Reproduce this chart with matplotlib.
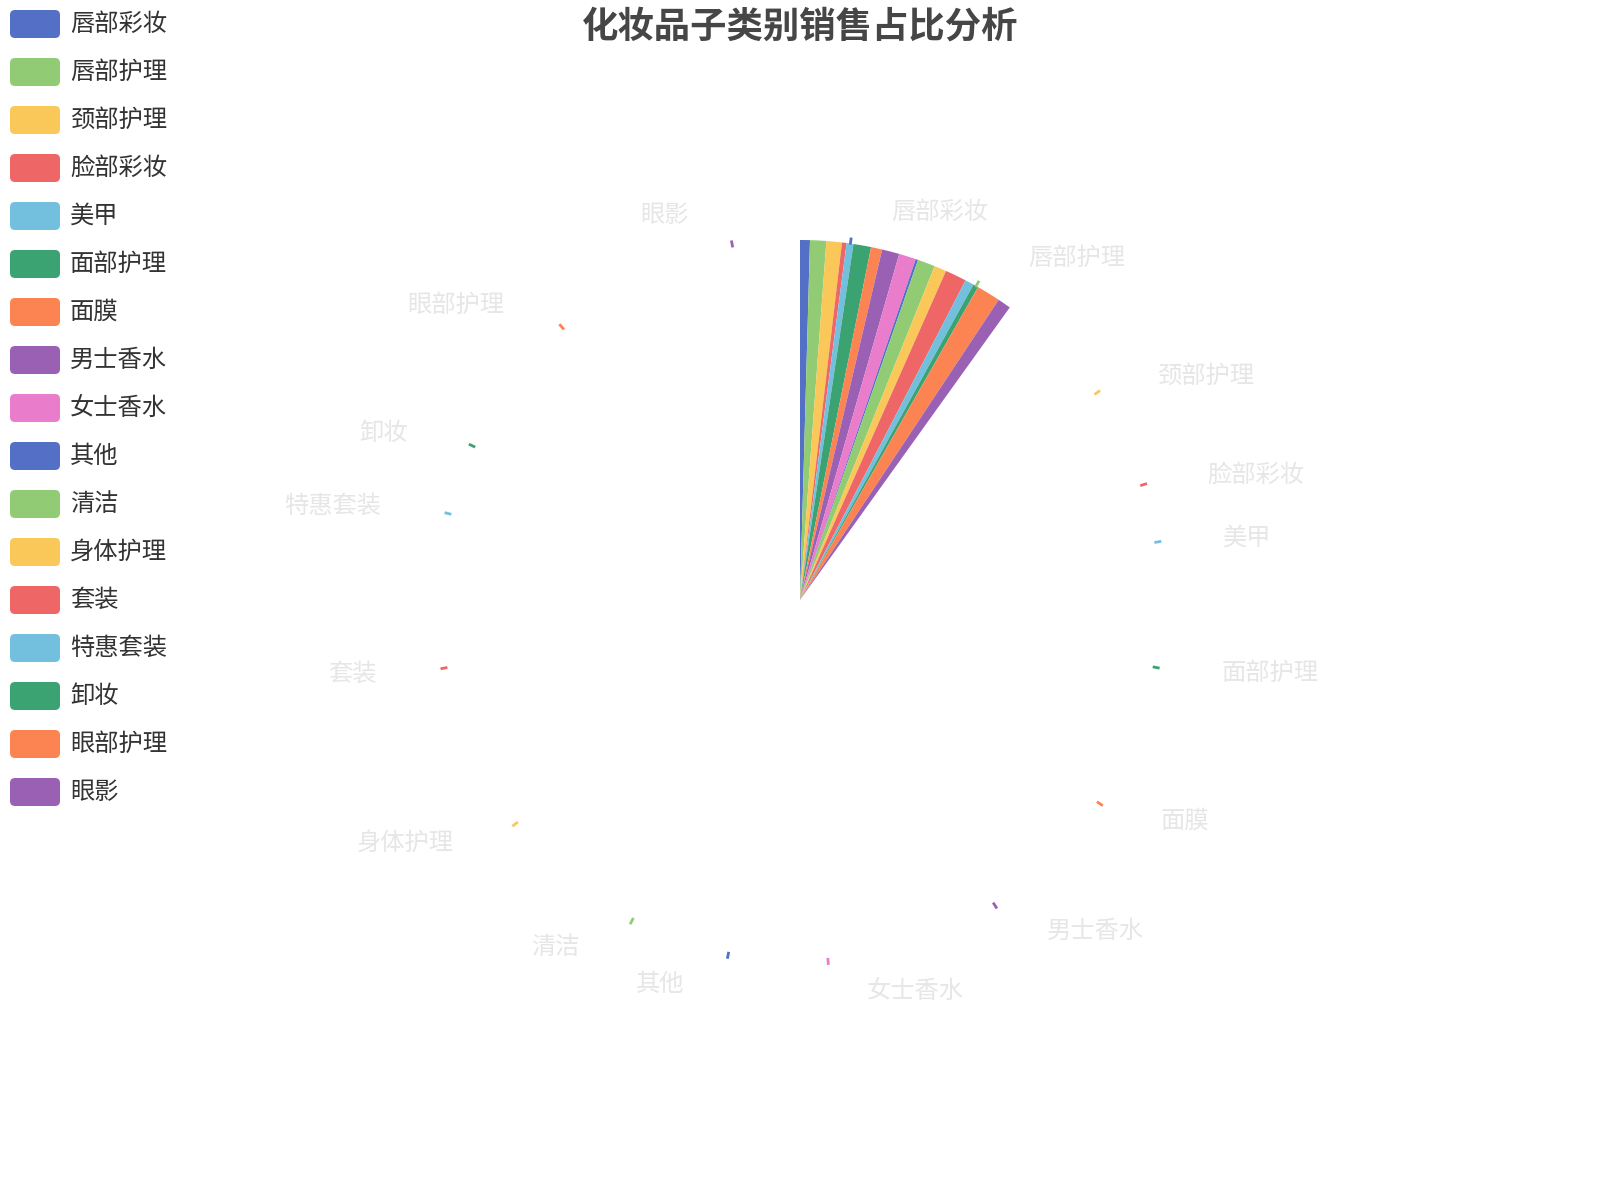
import numpy as np
import matplotlib
matplotlib.use("Agg")
import matplotlib.pyplot as plt
from matplotlib.patches import FancyBboxPatch

plt.rcParams['font.family'] = ['Noto Sans CJK SC', 'DejaVu Sans']

categories = ['唇部彩妆', '唇部护理', '颈部护理', '脸部彩妆', '美甲', '面部护理', '面膜', '男士香水',
              '女士香水', '其他', '清洁', '身体护理', '套装', '特惠套装', '卸妆', '眼部护理', '眼影']
shares = [4.47, 7.33, 7.0, 2.08, 3.11, 7.97, 5.06, 7.86, 7.75, 1.08, 7.92, 5.5, 9.69, 4.0, 2.33,
          10.83, 6.0]
palette = ['#5470c6', '#91cc75', '#fac858', '#ee6666', '#73c0de', '#3ba272', '#fc8452', '#9a60b4', '#ea7ccc']
colors = [palette[i % len(palette)] for i in range(len(categories))]

# the screenshot was taken while the pie was still sweeping open
progress = 0.099

W, H = 1600, 1200
cx, cy, r = 800, 600, 360

fig = plt.figure(figsize=(16, 12), dpi=100)
ax = fig.add_axes([0, 0, 1, 1])

vals = np.array(shares)
frac = vals / vals.sum() * progress
ax.pie(frac, colors=colors, startangle=90, counterclock=False, normalize=False,
       radius=r, center=(cx, H - cy), wedgeprops=dict(linewidth=0))

# labels sit where the finished pie would put them
ends = np.cumsum(vals) / vals.sum() * 360
mids = ends - vals / vals.sum() * 180
for name, col, a in zip(categories, colors, np.deg2rad(mids)):
    s, c = np.sin(a), np.cos(a)
    ax.plot([cx + 359 * s, cx + 366 * s], [H - cy + 359 * c, H - cy + 366 * c],
            color=col, lw=2, solid_capstyle='butt')
    px, py = cx + 392 * s, H - cy + 392 * c
    if s >= 0:
        ax.text(px + 36, py, name, fontsize=17.5, color='#e6e6e6', ha='left', va='center')
    else:
        ax.text(px - 38, py, name, fontsize=17.5, color='#e6e6e6', ha='right', va='center')

# legend
for i, (name, col) in enumerate(zip(categories, colors)):
    yc = H - (24 + 48 * i)
    ax.add_patch(FancyBboxPatch((10, yc - 14), 50, 28, boxstyle='round,pad=0,rounding_size=5',
                                fc=col, ec='none'))
    ax.text(70, yc, name, fontsize=17.5, color='#333333', ha='left', va='center')

ax.text(800, H - 27, '化妆品子类别销售占比分析', fontsize=26.2, fontweight='bold',
        color='#464646', ha='center', va='center')

ax.set_xlim(0, W)
ax.set_ylim(0, H)
ax.set_aspect('equal')
ax.set_axis_off()

fig.savefig('out.png', dpi=100, facecolor='white')
